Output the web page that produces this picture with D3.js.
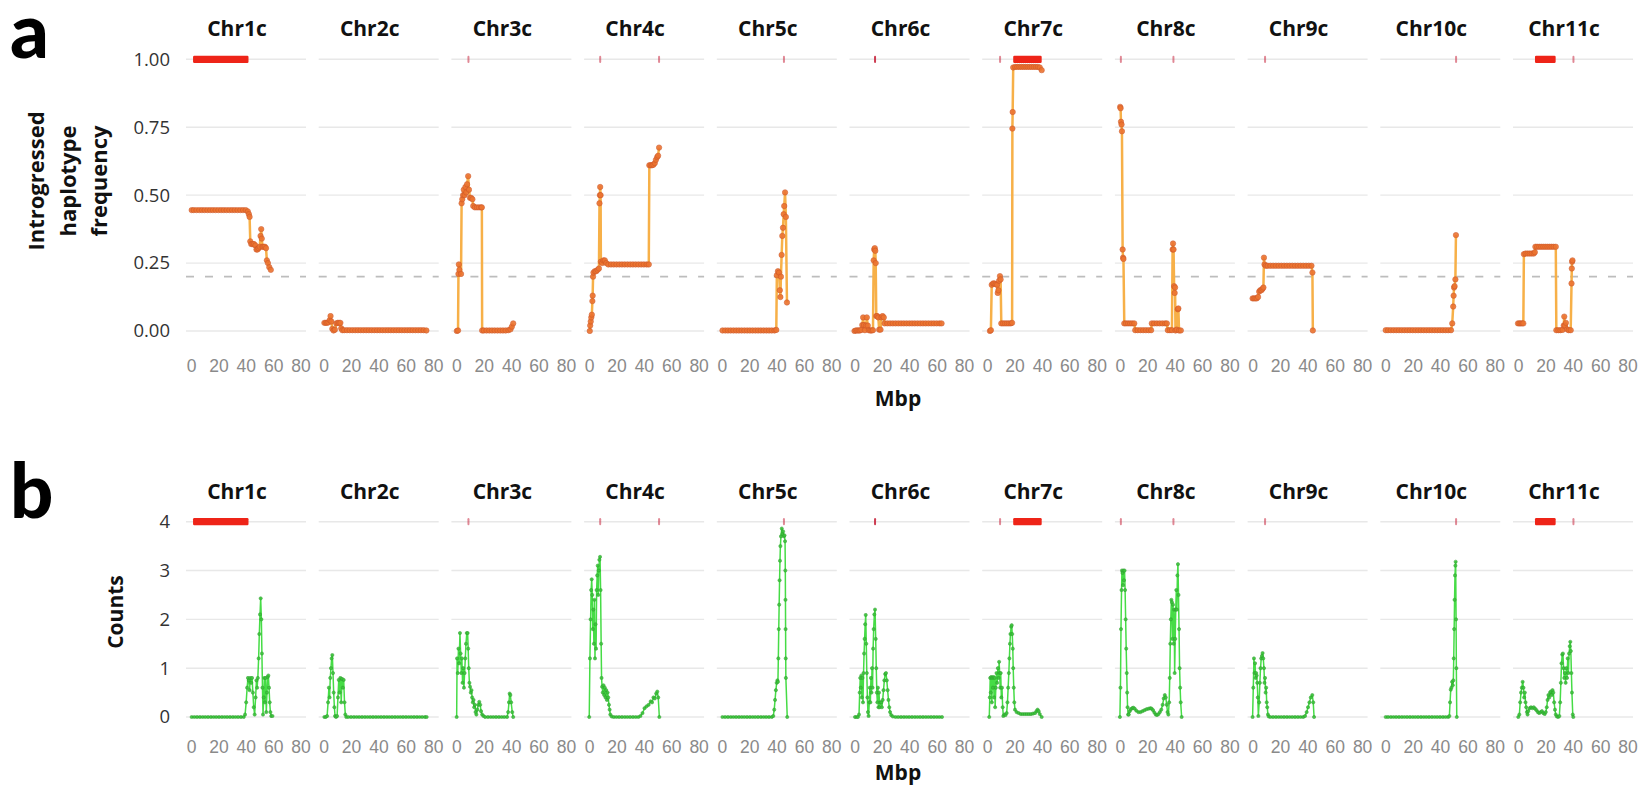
<!DOCTYPE html>
<html>
<head>
<meta charset="utf-8">
<script src="https://cdn.jsdelivr.net/npm/d3@7"></script>
<style>
  html, body { margin: 0; padding: 0; background: #ffffff; }
  svg { display: block; }
</style>
</head>
<body>
<svg id="chart" width="1643" height="788"></svg>
<script>
// ---- Chromosomes, ticks, reference regions ----
const chromosomes = ["Chr1c", "Chr2c", "Chr3c", "Chr4c", "Chr5c", "Chr6c", "Chr7c", "Chr8c", "Chr9c", "Chr10c", "Chr11c"];
const xTickValues = [0, 20, 40, 60, 80];
const freqTickValues = [0, 0.25, 0.5, 0.75, 1];
const countTickValues = [0, 1, 2, 3, 4];
const freqThreshold = 0.2;

// Marked intervals on each chromosome (Mbp)
const markedRegions = [
  ["Chr1c", 1.5, 42.0],
  ["Chr3c", 8.7, 8.9],
  ["Chr4c", 8.0, 8.2],
  ["Chr4c", 51.0, 51.2],
  ["Chr5c", 45.3, 45.5],
  ["Chr6c", 14.4, 15.6],
  ["Chr7c", 9.3, 9.5],
  ["Chr7c", 19.0, 39.8],
  ["Chr8c", 0.6, 0.8],
  ["Chr8c", 39.0, 39.2],
  ["Chr9c", 9.0, 9.2],
  ["Chr10c", 51.6, 51.8],
  ["Chr11c", 12.4, 27.5],
  ["Chr11c", 40.4, 40.6]
];

// ---- Introgressed haplotype frequency: [Mbp, frequency] ----
const freqChr1c = [[0.5,0.445],[2,0.445],[4,0.445],[6,0.445],[8,0.445],[10,0.445],[12,0.445],[14,0.445],[16,0.445],[18,0.445],[20,0.445],[22,0.445],[24,0.445],[26,0.445],[28,0.445],[30,0.445],[32,0.445],[34,0.445],[36,0.445],[38,0.445],[40,0.445],[41.5,0.44],[42.3,0.43],[42.8,0.42],[43.3,0.33],[44,0.32],[45,0.32],[46,0.32],[47,0.315],[47.8,0.30],[48.6,0.30],[49.4,0.305],[50.2,0.31],[50.8,0.35],[51.3,0.375],[51.7,0.34],[52.2,0.31],[53,0.31],[54,0.31],[54.8,0.305],[55.4,0.26],[56.2,0.25],[57.2,0.235],[58.3,0.225]];
const freqChr2c = [[0.5,0.03],[1.5,0.03],[2.5,0.03],[3.5,0.032],[4.4,0.04],[5,0.055],[5.6,0.035],[6.3,0.008],[7.2,0.002],[8.2,0.005],[9.2,0.028],[10.2,0.03],[11.2,0.03],[12.2,0.03],[12.8,0.01],[13.6,0.003],[15,0.003],[17,0.003],[19,0.003],[21,0.003],[23,0.003],[25,0.003],[27,0.003],[29,0.003],[31,0.003],[33,0.003],[35,0.003],[37,0.003],[39,0.003],[41,0.003],[43,0.003],[45,0.003],[47,0.003],[49,0.003],[51,0.003],[53,0.003],[55,0.003],[57,0.003],[59,0.003],[61,0.003],[63,0.003],[65,0.003],[67,0.003],[69,0.003],[71,0.003],[73,0.003],[75,0.002]];
const freqChr3c = [[0.3,0],[1.2,0.002],[1.5,0.21],[1.8,0.245],[2.2,0.225],[3.4,0.21],[3.8,0.47],[4.3,0.485],[4.9,0.5],[5.4,0.52],[6,0.5],[6.6,0.53],[7.2,0.51],[7.8,0.54],[8.6,0.57],[9.2,0.52],[9.9,0.49],[10.8,0.49],[11.7,0.485],[12.3,0.46],[13.5,0.455],[15,0.455],[16.5,0.455],[18,0.455],[18.6,0.455],[18.8,0.002],[20,0.002],[22,0.002],[24,0.002],[26,0.002],[28,0.002],[30,0.002],[32,0.002],[34,0.002],[36,0.002],[38,0.003],[39.5,0.006],[40.5,0.016],[41.5,0.028]];
const freqChr4c = [[0.5,0],[0.8,0.02],[1.2,0.035],[1.6,0.05],[2,0.06],[2.4,0.11],[2.6,0.13],[2.9,0.2],[3.2,0.215],[4.2,0.22],[5.2,0.22],[6.2,0.225],[7.2,0.23],[7.6,0.47],[7.9,0.5],[8.1,0.53],[8.4,0.5],[8.6,0.255],[9.5,0.25],[10.5,0.26],[11.5,0.26],[12.5,0.25],[14,0.245],[16,0.245],[18,0.245],[20,0.245],[22,0.245],[24,0.245],[26,0.245],[28,0.245],[30,0.245],[32,0.245],[34,0.245],[36,0.245],[38,0.245],[40,0.245],[42,0.245],[43.6,0.245],[44,0.61],[45,0.61],[46,0.61],[47,0.612],[48,0.618],[48.8,0.63],[49.7,0.64],[50.4,0.645],[51.1,0.675]];
const freqChr5c = [[0.5,0.002],[2.5,0.002],[4.5,0.002],[6.5,0.002],[8.5,0.002],[10.5,0.002],[12.5,0.002],[14.5,0.002],[16.5,0.002],[18.5,0.002],[20.5,0.002],[22.5,0.002],[24.5,0.002],[26.5,0.002],[28.5,0.002],[30.5,0.002],[32.5,0.002],[34.5,0.002],[36.5,0.002],[38.5,0.002],[39.8,0.004],[40.2,0.205],[41,0.22],[41.8,0.215],[42.4,0.15],[42.8,0.125],[43.2,0.2],[43.7,0.28],[44.2,0.35],[44.7,0.38],[45.2,0.43],[45.6,0.46],[46.2,0.51],[46.8,0.42],[47.6,0.105]];
const freqChr6c = [[0,0],[1,0.002],[2,0.002],[3,0.002],[4,0.002],[5,0.004],[5.7,0.022],[6.3,0.05],[6.9,0.022],[7.6,0.003],[8.4,0.02],[9,0.05],[9.7,0.02],[10.5,0.003],[11.5,0.002],[12.5,0.002],[13.5,0.003],[14,0.26],[14.4,0.3],[14.8,0.305],[15.2,0.295],[15.5,0.25],[15.9,0.055],[16.6,0.055],[17.4,0.05],[18,0.005],[19,0.005],[19.7,0.05],[20.5,0.055],[21.4,0.05],[22,0.028],[24,0.028],[26,0.028],[28,0.028],[30,0.028],[32,0.028],[34,0.028],[36,0.028],[38,0.028],[40,0.028],[42,0.028],[44,0.028],[46,0.028],[48,0.028],[50,0.028],[52,0.028],[54,0.028],[56,0.028],[58,0.028],[60,0.028],[62,0.028],[63.6,0.028]];
const freqChr7c = [[2,0],[2.7,0.003],[3.3,0.17],[4.3,0.175],[5.3,0.175],[6.3,0.172],[7.2,0.17],[7.7,0.14],[8.2,0.15],[8.7,0.185],[9.3,0.202],[9.8,0.19],[10.3,0.028],[11.6,0.028],[13,0.028],[14.4,0.028],[15.8,0.028],[17.2,0.028],[18.2,0.03],[18.4,0.745],[18.6,0.806],[19,0.97],[20.5,0.972],[22,0.972],[23.5,0.972],[25,0.972],[26.5,0.972],[28,0.972],[29.5,0.972],[31,0.972],[32.5,0.972],[34,0.972],[35.5,0.972],[37,0.972],[38.4,0.97],[39.8,0.96]];
const freqChr8c = [[0.2,0.825],[0.5,0.82],[0.8,0.77],[1.2,0.76],[1.5,0.735],[2,0.3],[2.3,0.27],[2.6,0.265],[3.2,0.028],[4.5,0.028],[6,0.028],[7.5,0.028],[9,0.028],[10.5,0.028],[11.2,0.003],[13,0.003],[15,0.003],[17,0.003],[19,0.003],[21,0.003],[22.8,0.003],[23.3,0.028],[25,0.028],[27,0.028],[29,0.028],[31,0.028],[33,0.028],[34.3,0.028],[35,0.003],[36.5,0.003],[38,0.003],[38.5,0.3],[38.8,0.322],[39.2,0.3],[39.6,0.165],[40,0.14],[40.3,0.16],[40.6,0.002],[41.5,0.005],[42.3,0.08],[42.7,0.083],[43.2,0.002],[44.5,0.002]];
const freqChr9c = [[0,0.12],[1,0.12],[2,0.12],[3,0.12],[4,0.125],[4.8,0.145],[5.6,0.15],[6.4,0.15],[7.2,0.155],[7.9,0.16],[8.3,0.27],[8.7,0.245],[9.6,0.24],[11,0.24],[13,0.24],[15,0.24],[17,0.24],[19,0.24],[21,0.24],[23,0.24],[25,0.24],[27,0.24],[29,0.24],[31,0.24],[33,0.24],[35,0.24],[37,0.24],[39,0.24],[41,0.24],[43,0.24],[43.7,0.215],[44,0.002]];
const freqChr10c = [[0.3,0.003],[2,0.003],[4,0.003],[6,0.003],[8,0.003],[10,0.003],[12,0.003],[14,0.003],[16,0.003],[18,0.003],[20,0.003],[22,0.003],[24,0.003],[26,0.003],[28,0.003],[30,0.003],[32,0.003],[34,0.003],[36,0.003],[38,0.003],[40,0.003],[42,0.003],[44,0.003],[46,0.003],[48,0.003],[48.9,0.028],[49.6,0.09],[49.9,0.13],[50.2,0.16],[50.6,0.165],[51.2,0.19],[51.6,0.353]];
const freqChr11c = [[0,0.028],[1,0.028],[2,0.028],[3,0.028],[3.9,0.028],[4.3,0.283],[5.5,0.285],[7,0.285],[8.5,0.285],[10,0.285],[11.5,0.285],[12.3,0.29],[12.7,0.31],[14,0.31],[15.5,0.31],[17,0.31],[18.5,0.31],[20,0.31],[21.5,0.31],[23,0.31],[24.5,0.31],[26,0.31],[27.6,0.31],[28,0.003],[29.5,0.003],[31,0.003],[32.5,0.004],[33.4,0.02],[33.8,0.053],[34.3,0.02],[35,0.03],[36,0.006],[37,0.003],[38.5,0.003],[39.1,0.175],[39.3,0.23],[39.5,0.255],[39.8,0.26]];

// ---- Counts: [Mbp, count] ----
const countChr1c = [[0.5,0],[2.5,0],[4.5,0],[6.5,0],[8.5,0],[10.5,0],[12.5,0],[14.5,0],[16.5,0],[18.5,0],[20.5,0],[22.5,0],[24.5,0],[26.5,0],[28.5,0],[30.5,0],[32.5,0],[34.5,0],[36.5,0],[38.5,0],[39.5,0.05],[40.3,0.3],[41,0.6],[41.6,0.8],[42.2,0.75],[42.8,0.55],[43.3,0.8],[44,0.7],[44.6,0.8],[45.2,0.5],[45.8,0.2],[46.5,0.05],[47.2,0.4],[47.8,0.75],[48.3,0.6],[48.8,0.8],[49.4,1.2],[49.9,1.7],[50.4,2.1],[50.9,2.43],[51.4,2.0],[51.8,1.3],[52.2,0.6],[52.6,0.05],[53.1,0.4],[53.6,0.8],[54,0.3],[54.5,0.8],[55,0.1],[55.5,0.5],[56,0.82],[56.5,0.85],[57,0.6],[57.5,0.3],[58,0.1],[58.6,0.02],[59.5,0.02]];
const countChr2c = [[0.5,0],[1.5,0],[2.5,0.02],[3.2,0.3],[3.8,0.6],[4.3,0.4],[4.8,0.8],[5.3,1.0],[5.8,1.2],[6.3,1.27],[6.8,0.9],[7.3,0.5],[7.8,0.2],[8.3,0.02],[9,0],[9.8,0.02],[10.4,0.4],[11,0.76],[11.6,0.5],[12.2,0.8],[12.8,0.3],[13.4,0.78],[14,0.6],[14.6,0.76],[15.2,0.3],[15.8,0.05],[16.5,0],[18,0],[20,0],[22,0],[24,0],[26,0],[28,0],[30,0],[32,0],[34,0],[36,0],[38,0],[40,0],[42,0],[44,0],[46,0],[48,0],[50,0],[52,0],[54,0],[56,0],[58,0],[60,0],[62,0],[64,0],[66,0],[68,0],[70,0],[72,0],[74,0],[75.2,0]];
const countChr3c = [[0.2,0],[0.5,1.2],[1,0.9],[1.5,1.4],[2,1.1],[2.6,1.72],[3.1,1.3],[3.6,0.9],[4,1.2],[4.5,0.7],[5,1.0],[5.5,0.6],[6,0.9],[6.5,1.2],[7,1.5],[7.6,1.72],[8.2,1.72],[8.6,1.4],[9,1.0],[9.5,0.7],[10,0.62],[10.5,0.5],[11,0.55],[11.5,0.4],[12,0.3],[12.5,0.35],[13,0.2],[13.5,0.25],[14,0.1],[14.6,0.05],[15.3,0.15],[16,0.25],[16.7,0.31],[17.4,0.25],[18,0.12],[18.8,0.05],[19.8,0.02],[21,0],[23,0],[25,0],[27,0],[29,0],[31,0],[33,0],[35,0],[37,0],[37.8,0.1],[38.4,0.3],[38.9,0.48],[39.4,0.45],[40,0.3],[40.8,0.1],[41.5,0]];
const countChr4c = [[0.1,0],[0.6,1.2],[1.1,2.0],[1.5,2.6],[1.9,2.82],[2.3,2.5],[2.7,1.8],[3.1,2.2],[3.5,1.5],[3.9,2.4],[4.3,1.2],[4.7,1.9],[5.1,1.4],[5.5,2.6],[5.9,2.9],[6.3,3.1],[6.7,2.5],[7.1,3.0],[7.5,3.22],[8,3.28],[8.4,2.6],[8.8,1.5],[9.1,0.8],[9.5,0.62],[10,0.5],[10.5,0.65],[11,0.45],[11.5,0.6],[12,0.4],[12.5,0.55],[13,0.35],[13.5,0.5],[14,0.4],[14.5,0.25],[15,0.15],[15.5,0.05],[16.5,0.01],[18,0],[20,0],[22,0],[24,0],[26,0],[28,0],[30,0],[32,0],[34,0],[36,0],[37.5,0.02],[39,0.08],[40.5,0.18],[42,0.22],[43.5,0.25],[45,0.32],[46,0.3],[47,0.4],[48,0.38],[49,0.48],[49.8,0.52],[50.5,0.4],[51.3,0]];
const countChr5c = [[0.5,0],[2.5,0],[4.5,0],[6.5,0],[8.5,0],[10.5,0],[12.5,0],[14.5,0],[16.5,0],[18.5,0],[20.5,0],[22.5,0],[24.5,0],[26.5,0],[28.5,0],[30.5,0],[32.5,0],[34.5,0],[36.5,0],[37.6,0.02],[38.3,0.15],[38.9,0.35],[39.5,0.55],[40.1,0.7],[40.6,0.75],[41,0.72],[41.3,1.2],[41.6,1.8],[41.9,2.3],[42.2,2.8],[42.5,3.2],[42.8,3.5],[43.2,3.7],[43.8,3.86],[44.3,3.75],[44.8,3.8],[45.3,3.7],[45.8,3.72],[46.2,3.6],[46.4,3.0],[46.5,2.4],[46.6,1.8],[46.7,1.2],[46.8,0.8],[47.8,0]];
const countChr6c = [[0.4,0],[1.5,0],[2.5,0],[3.3,0.05],[3.8,0.5],[4.2,0.8],[4.6,0.6],[5,0.85],[5.4,0.4],[5.8,0.8],[6.2,0.3],[6.6,0.9],[7,1.3],[7.4,1.6],[7.8,1.9],[8.2,2.09],[8.6,1.5],[9,0.9],[9.4,0.4],[9.8,0.1],[10.3,0.02],[10.8,0.3],[11.2,0.6],[11.6,0.3],[12,0.8],[12.4,0.5],[12.8,1.0],[13.2,0.6],[13.6,1.4],[14,1.8],[14.5,2.1],[15,2.2],[15.5,1.6],[15.9,1.0],[16.3,0.5],[16.7,0.3],[17.1,0.6],[17.5,0.2],[17.9,0.5],[18.4,0.2],[18.9,0.3],[19.5,0.3],[20,0.2],[20.6,0.35],[21.2,0.55],[21.8,0.75],[22.4,0.88],[23,0.9],[23.6,0.75],[24.2,0.55],[24.8,0.35],[25.4,0.2],[26,0.1],[26.8,0.04],[28,0.01],[30,0],[32,0],[34,0],[36,0],[38,0],[40,0],[42,0],[44,0],[46,0],[48,0],[50,0],[52,0],[54,0],[56,0],[58,0],[60,0],[62,0],[63.9,0]];
const countChr7c = [[1.5,0],[1.9,0.4],[2.2,0.8],[2.6,0.5],[3,0.82],[3.4,0.3],[3.8,0.8],[4.2,0.6],[4.6,0.82],[5,0.4],[5.4,0.8],[5.8,0.2],[6.3,0.6],[6.8,0.9],[7.3,0.7],[7.8,1.0],[8.3,0.8],[8.7,1.13],[9.1,0.9],[9.5,0.6],[9.9,0.9],[10.3,0.4],[10.8,0.6],[11.3,0.2],[11.8,0.02],[12.6,0.05],[13.4,0.04],[14.2,0.08],[14.8,0.3],[15.3,0.6],[15.8,0.9],[16.2,1.2],[16.6,1.5],[17,1.7],[17.5,1.85],[17.9,1.88],[18.3,1.7],[18.7,1.4],[19,1.0],[19.4,0.6],[19.8,0.3],[20.3,0.15],[21.5,0.1],[23,0.08],[24.5,0.06],[26,0.06],[27.5,0.06],[29,0.06],[30.5,0.06],[32,0.06],[33.5,0.07],[35,0.08],[36,0.12],[36.8,0.15],[37.6,0.12],[38.4,0.06],[39.8,0]];
const countChr8c = [[0,0],[0.4,0.6],[0.8,1.8],[1.2,2.6],[1.5,3.0],[1.9,2.95],[2.3,2.7],[2.6,3.0],[3,2.8],[3.4,3.0],[3.8,2.6],[4.2,2.0],[4.6,1.4],[5,0.9],[5.3,0.5],[5.6,0.2],[6,0.05],[6.5,0.05],[7.2,0.12],[8,0.16],[9,0.18],[9.8,0.19],[10.8,0.17],[12,0.13],[13.5,0.1],[15,0.1],[16.5,0.12],[18,0.14],[19.5,0.16],[21,0.17],[22.3,0.18],[23.2,0.17],[24.2,0.14],[25.2,0.09],[26.2,0.05],[27.2,0.04],[28.2,0.06],[29.2,0.1],[30.2,0.15],[31.2,0.25],[32,0.38],[32.8,0.45],[33.5,0.4],[34.2,0.25],[34.8,0.1],[35.4,0.05],[36,0.3],[36.4,0.8],[36.8,1.5],[37.2,2.0],[37.6,2.4],[38,2.35],[38.4,1.6],[38.8,2.3],[39.2,1.5],[39.6,2.2],[40,0.9],[40.4,1.6],[40.8,2.2],[41.2,2.6],[41.6,2.2],[42,2.9],[42.4,3.13],[42.8,2.5],[43.2,1.8],[43.6,1.0],[44,0.6],[44.4,0.3],[45.1,0]];
const countChr9c = [[0,0],[0.5,0.6],[1,1.2],[1.4,0.9],[1.8,1.1],[2.2,0.8],[2.6,0.9],[3,0.85],[3.4,0.7],[3.8,0.4],[4.2,0.02],[4.8,0.3],[5.3,0.7],[5.8,1.0],[6.3,1.2],[6.8,1.25],[7.3,1.31],[7.8,1.2],[8.3,1.0],[8.7,0.7],[9.1,0.8],[9.5,0.5],[9.9,0.6],[10.3,0.3],[10.7,0.2],[11.2,0.05],[11.8,0.01],[13,0],[15,0],[17,0],[19,0],[21,0],[23,0],[25,0],[27,0],[29,0],[31,0],[33,0],[35,0],[37,0],[38.3,0.02],[39.5,0.1],[40.5,0.2],[41.5,0.3],[42.5,0.4],[43.6,0.45],[44.3,0.3],[44.9,0]];
const countChr10c = [[0.3,0],[2,0],[4,0],[6,0],[8,0],[10,0],[12,0],[14,0],[16,0],[18,0],[20,0],[22,0],[24,0],[26,0],[28,0],[30,0],[32,0],[34,0],[36,0],[38,0],[40,0],[42,0],[44,0],[46,0],[46.8,0.02],[47.3,0.3],[47.8,0.56],[48.3,0.6],[48.8,0.72],[49.3,0.65],[49.7,0.75],[50,1.2],[50.3,1.8],[50.6,2.4],[50.9,2.9],[51.2,3.1],[51.4,3.18],[51.7,2.0],[51.9,1.0],[52.2,0]];
const countChr11c = [[0.2,0],[1,0.05],[1.6,0.3],[2.2,0.5],[2.8,0.6],[3.4,0.72],[4,0.6],[4.5,0.4],[5,0.5],[5.5,0.3],[6,0.2],[6.5,0.1],[7,0.05],[7.5,0.12],[8.5,0.18],[9.5,0.2],[10.5,0.18],[11.5,0.2],[12.5,0.17],[13.5,0.14],[14.5,0.1],[15.5,0.08],[16.5,0.1],[17.5,0.12],[18.5,0.08],[19.5,0.06],[20.3,0.1],[21,0.2],[21.6,0.35],[22.2,0.45],[22.8,0.4],[23.4,0.5],[24,0.52],[24.6,0.45],[25.2,0.55],[25.8,0.5],[26.4,0.3],[27,0.15],[27.6,0.05],[28.4,0.01],[29.4,0],[30.2,0.02],[30.8,0.3],[31.3,0.7],[31.8,1.1],[32.3,1.28],[32.8,1.3],[33.3,1.0],[33.8,0.8],[34.3,0.9],[34.8,0.7],[35.3,1.0],[35.8,0.8],[36.3,1.2],[36.8,0.9],[37.3,1.3],[37.8,1.45],[38.2,1.54],[38.6,1.35],[39,0.9],[39.4,0.5],[40,0.05],[40.4,0]];

const freqSeries = [freqChr1c, freqChr2c, freqChr3c, freqChr4c, freqChr5c, freqChr6c, freqChr7c, freqChr8c, freqChr9c, freqChr10c, freqChr11c];
const countSeries = [countChr1c, countChr2c, countChr3c, countChr4c, countChr5c, countChr6c, countChr7c, countChr8c, countChr9c, countChr10c, countChr11c];

// ---- Layout ----
const svg = d3.select("#chart");
const FONT = "'Open Sans', 'DejaVu Sans', sans-serif";
const TICK_FONT = "'Liberation Sans', Arial, sans-serif";
const LETTER_FONT = "Lato, 'Open Sans', sans-serif";
const facet = { x0: 186, step: 132.7, width: 120, titleOffset: -9 };
const xDomain = [-3.65, 84];

function facetScale(i) {
  const left = facet.x0 + i * facet.step;
  return d3.scaleLinear().domain(xDomain).range([left, left + facet.width]);
}

const rows = [
  {
    letter: "a", letterY: 58, top: 59.3, bottom: 331, domain: [0, 1],
    ticks: freqTickValues, format: d3.format(".2f"), series: freqSeries,
    threshold: freqThreshold, titleY: 35.7, xLabelY: 371.5, mbpY: 406,
    line: { stroke: "#f7b048", width: 2.5 },
    point: { r: 2.7, fill: "#ec7430", stroke: "#cc5628", opacity: 0.9 }
  },
  {
    letter: "b", letterY: 518, top: 521.7, bottom: 717, domain: [0, 4],
    ticks: countTickValues, format: d3.format("d"), series: countSeries,
    threshold: null, titleY: 499, xLabelY: 752.5, mbpY: 780,
    line: { stroke: "#46dc46", width: 1.5 },
    point: { r: 1.6, fill: "#3cc43c", stroke: "#2f9f2f", opacity: 0.9 }
  }
];

rows.forEach(row => {
  const y = d3.scaleLinear().domain(row.domain).range([row.bottom, row.top]);

  // panel letter
  svg.append("text")
    .attr("x", 10).attr("y", row.letterY)
    .attr("font-family", LETTER_FONT).attr("font-weight", 900)
    .attr("font-size", 76).attr("fill", "#000")
    .text(row.letter);

  // y tick labels
  const yAxis = svg.append("g")
    .attr("transform", "translate(170,0)")
    .call(d3.axisLeft(y).tickValues(row.ticks).tickFormat(row.format).tickSize(0).tickPadding(0));
  yAxis.select(".domain").remove();
  yAxis.selectAll("text")
    .attr("font-family", FONT).attr("font-size", 18.5).attr("fill", "#333");

  chromosomes.forEach((chr, i) => {
    const x = facetScale(i);
    const [px0, px1] = x.range();
    const g = svg.append("g").attr("class", "facet");

    // horizontal grid
    g.selectAll("line.grid").data(row.ticks).join("line")
      .attr("class", "grid")
      .attr("x1", px0).attr("x2", px1)
      .attr("y1", d => y(d)).attr("y2", d => y(d))
      .attr("stroke", "#e8e8e8").attr("stroke-width", 1.4);

    // threshold line
    if (row.threshold !== null) {
      g.append("line")
        .attr("x1", px0).attr("x2", px1)
        .attr("y1", y(row.threshold)).attr("y2", y(row.threshold))
        .attr("stroke", "#bdbdbd").attr("stroke-width", 1.6)
        .attr("stroke-dasharray", "8,11");
    }

    // facet title
    svg.append("text")
      .attr("x", (px0 + px1) / 2 + facet.titleOffset).attr("y", row.titleY)
      .attr("text-anchor", "middle")
      .attr("font-family", FONT).attr("font-weight", 700).attr("font-size", 21)
      .attr("fill", "#111")
      .text(chr);

    // x tick labels
    const xa = svg.append("g")
      .attr("transform", `translate(0,${row.xLabelY})`)
      .call(d3.axisBottom(x).tickValues(xTickValues).tickSize(0).tickPadding(0));
    xa.select(".domain").remove();
    xa.selectAll("text")
      .attr("y", 0).attr("dy", 0)
      .attr("font-family", TICK_FONT).attr("font-size", 17.5).attr("fill", "#8a8a8a");

    // marked regions along the top gridline
    const regions = markedRegions.filter(r => r[0] === chr);
    g.selectAll("rect.region").data(regions).join("rect")
      .attr("class", "region")
      .attr("x", r => {
        const w = x(r[2]) - x(r[1]);
        return w < 2 ? (x(r[1]) + x(r[2])) / 2 - 1 : x(r[1]);
      })
      .attr("width", r => Math.max(2, x(r[2]) - x(r[1])))
      .attr("y", y(row.domain[1]) - 3.6)
      .attr("height", 7.2)
      .attr("rx", 1.2)
      .attr("fill", r => (x(r[2]) - x(r[1])) > 8 ? "#ee2418" : "#c8283f")
      .attr("opacity", r => (x(r[2]) - x(r[1])) > 8 ? 1 : ((x(r[2]) - x(r[1])) > 1.2 ? 0.9 : 0.55));

    // data line + points
    const data = row.series[i];
    const lineGen = d3.line().x(d => x(d[0])).y(d => y(d[1]));
    g.append("path")
      .datum(data)
      .attr("d", lineGen)
      .attr("fill", "none")
      .attr("stroke", row.line.stroke)
      .attr("stroke-width", row.line.width)
      .attr("stroke-linejoin", "round");
    g.selectAll("circle").data(data).join("circle")
      .attr("cx", d => x(d[0])).attr("cy", d => y(d[1]))
      .attr("r", row.point.r)
      .attr("fill", row.point.fill)
      .attr("stroke", row.point.stroke).attr("stroke-width", 0.6)
      .attr("opacity", row.point.opacity);
  });

  // x-axis title
  svg.append("text")
    .attr("x", 898).attr("y", row.mbpY)
    .attr("text-anchor", "middle")
    .attr("font-family", FONT).attr("font-weight", 700).attr("font-size", 21)
    .attr("fill", "#111")
    .text("Mbp");
});

// y-axis titles
const freqTitleLines = ["Introgressed", "haplotype", "frequency"];
svg.selectAll("text.ytitle-a").data(freqTitleLines).join("text")
  .attr("class", "ytitle-a")
  .attr("transform", (d, i) => `translate(${35 + i * 31.5},181) rotate(-90)`)
  .attr("text-anchor", "middle").attr("dominant-baseline", "central")
  .attr("font-family", FONT).attr("font-weight", 700).attr("font-size", 22)
  .attr("fill", "#111")
  .text(d => d);

svg.append("text")
  .attr("transform", "translate(115,612) rotate(-90)")
  .attr("text-anchor", "middle").attr("dominant-baseline", "central")
  .attr("font-family", FONT).attr("font-weight", 700).attr("font-size", 21)
  .attr("fill", "#111")
  .text("Counts");
</script>
</body>
</html>
